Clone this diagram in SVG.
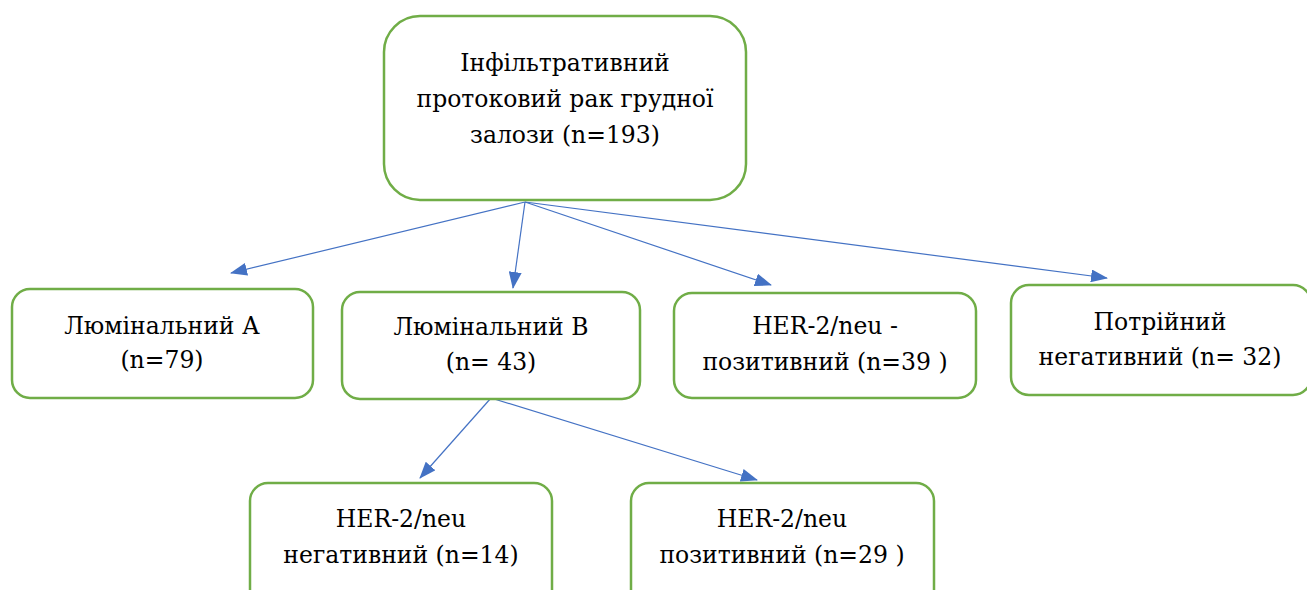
<svg xmlns="http://www.w3.org/2000/svg" width="1307" height="590" viewBox="0 0 1307 590">
<defs>
<marker id="ah" viewBox="0 0 17 13" refX="16" refY="6.5" markerWidth="17" markerHeight="13" markerUnits="userSpaceOnUse" orient="auto">
<path d="M0,0 L17,6.5 L0,13 Z" fill="#4472C4"/>
</marker>
<style>
.box{fill:#fff;stroke:#70AD47;stroke-width:2.5}
.t{font-family:'DejaVu Serif',serif;font-size:23.5px;fill:#000;text-anchor:middle}
.c{stroke:#4472C4;stroke-width:1.2;fill:none;marker-end:url(#ah)}
</style>
</defs>
<rect width="1307" height="590" fill="#fff"/>
<g id="connectors">
<line class="c" x1="525" y1="202" x2="231" y2="273"/>
<line class="c" x1="525" y1="202" x2="513" y2="288"/>
<line class="c" x1="525" y1="202" x2="771" y2="285"/>
<line class="c" x1="525" y1="202" x2="1107" y2="278"/>
<line class="c" x1="491" y1="398" x2="420" y2="478"/>
<line class="c" x1="491" y1="398" x2="757" y2="480"/>
</g>
<g id="root">
<rect class="box" x="384" y="16" width="362" height="184" rx="36"/>
<text class="t" x="565" y="71">Інфільтративний</text>
<text class="t" x="565" y="107">протоковий рак грудної</text>
<text class="t" x="565" y="143">залози (n=193)</text>
</g>
<g id="lumA">
<rect class="box" x="12" y="289" width="301" height="109" rx="18"/>
<text class="t" x="162" y="334">Люмінальний А</text>
<text class="t" x="162" y="368">(n=79)</text>
</g>
<g id="lumB">
<rect class="box" x="342" y="292" width="298" height="107" rx="18"/>
<text class="t" x="491" y="335">Люмінальний В</text>
<text class="t" x="491" y="370">(n= 43)</text>
</g>
<g id="her">
<rect class="box" x="674" y="293" width="302" height="105" rx="18"/>
<text class="t" x="825" y="334">HER-2/neu -</text>
<text class="t" x="825" y="370">позитивний (n=39 )</text>
</g>
<g id="triple">
<rect class="box" x="1011" y="285" width="300" height="110" rx="18"/>
<text class="t" x="1160" y="330">Потрійний</text>
<text class="t" x="1160" y="365">негативний (n= 32)</text>
</g>
<g id="herNeg">
<rect class="box" x="250" y="483" width="302" height="125" rx="18"/>
<text class="t" x="401" y="527">HER-2/neu</text>
<text class="t" x="401" y="563">негативний (n=14)</text>
</g>
<g id="herPos">
<rect class="box" x="631" y="483" width="303" height="125" rx="18"/>
<text class="t" x="782" y="527">HER-2/neu</text>
<text class="t" x="782" y="563">позитивний (n=29 )</text>
</g>
</svg>
